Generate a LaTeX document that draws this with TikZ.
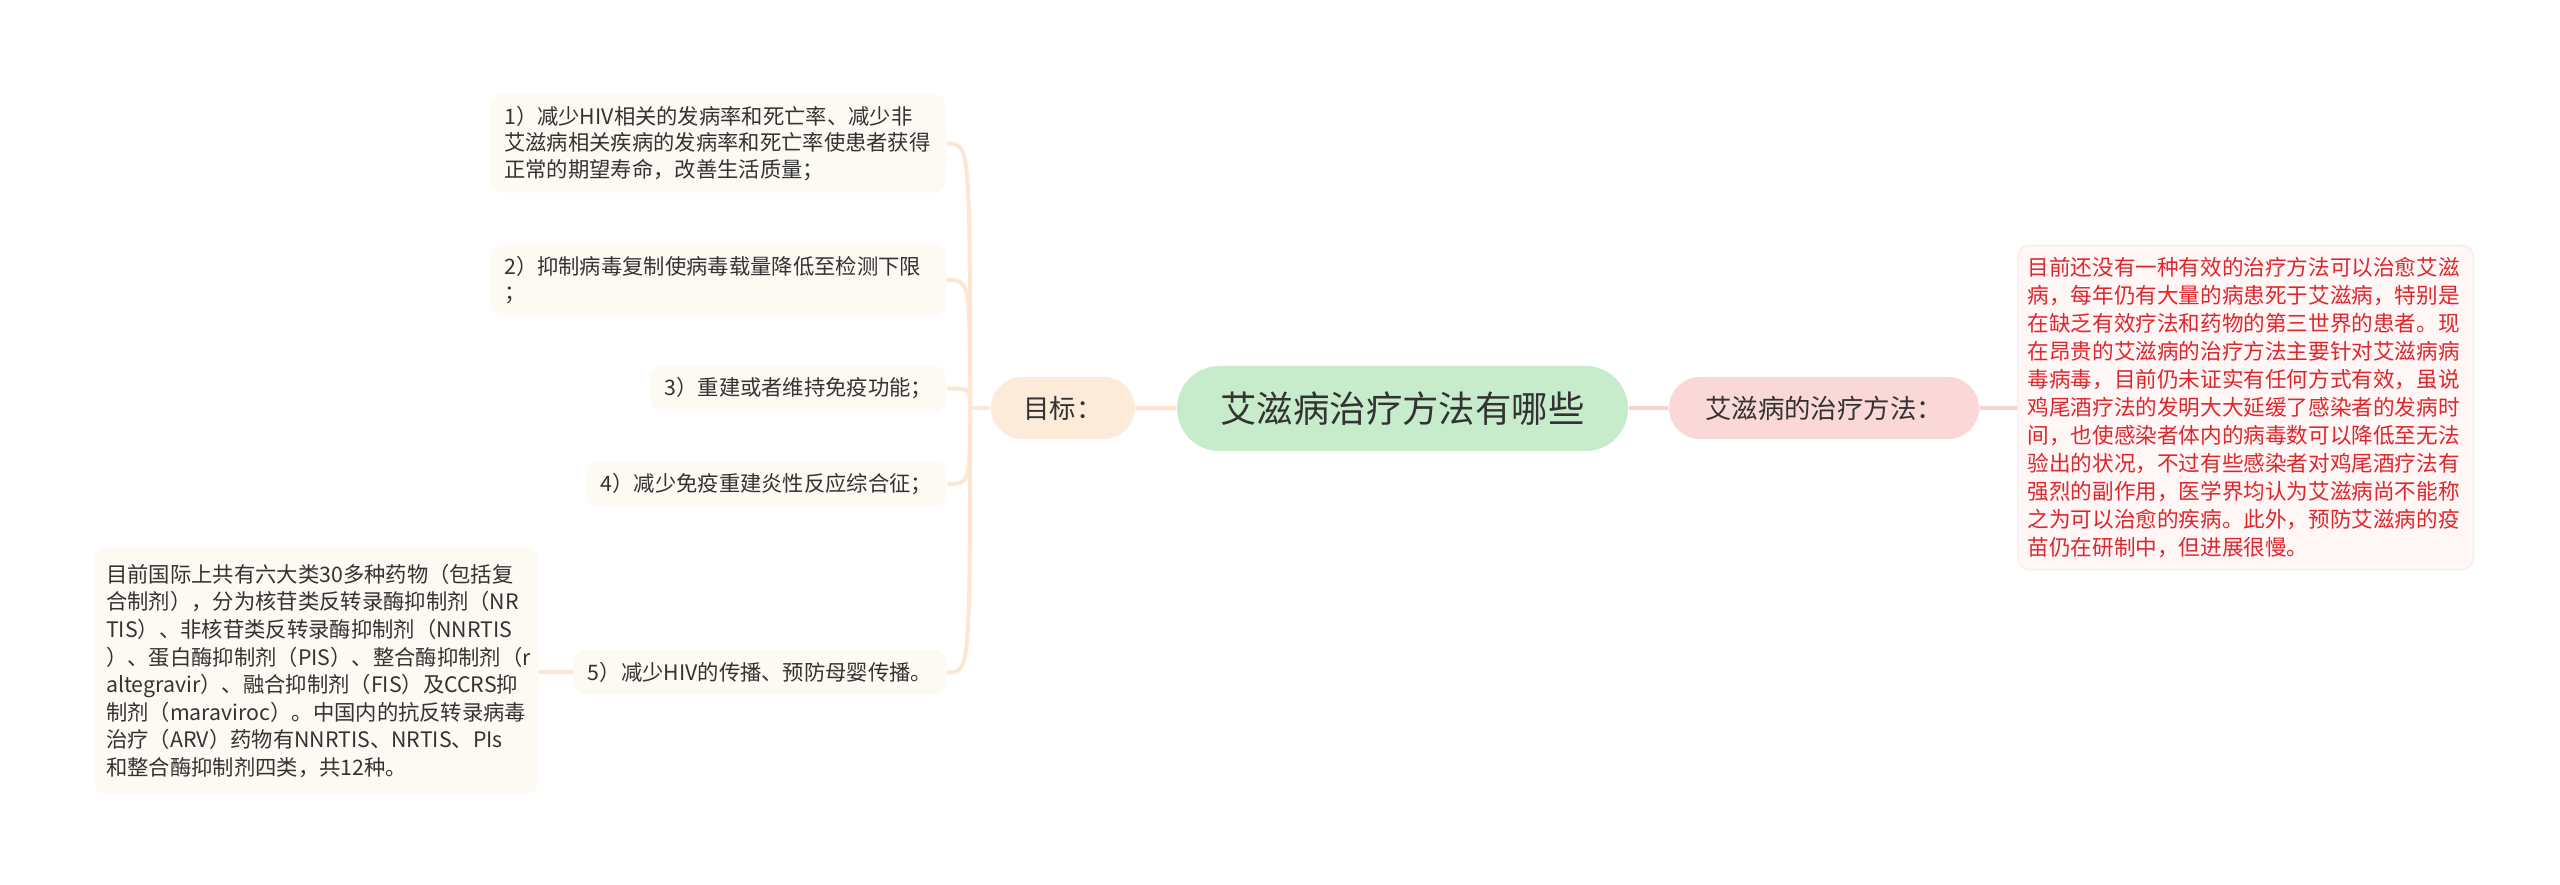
\documentclass[tikz,border=0pt]{standalone}
\usepackage{fontspec}
\setmainfont{Noto Sans CJK SC}
\usetikzlibrary{positioning}

\definecolor{rootfill}{HTML}{C7ECCB}
\definecolor{goalfill}{HTML}{FDEBD9}
\definecolor{wayfill}{HTML}{FAD8D8}
\definecolor{leaffill}{HTML}{FDF9F3}
\definecolor{redleaf}{HTML}{FFF6F6}
\definecolor{redtext}{HTML}{E0262D}
\definecolor{goalline}{HTML}{FBE7D3}
\definecolor{wayline}{HTML}{F6D4D4}
\definecolor{ink}{HTML}{333333}

\begin{document}
\begin{tikzpicture}[x=0.25pt, y=-0.25pt,
    rootbox/.style={rounded corners=10.6pt, fill=rootfill, text=ink, minimum width=112.75pt, minimum height=21.25pt, font=\fontsize{9.1}{11}\selectfont},
    midbox/.style={rounded corners=7.75pt, minimum height=15.5pt, text=ink, font=\fontsize{6.6}{8}\selectfont},
    leafbox/.style={rounded corners=3pt, fill=leaffill, text=ink, inner xsep=3.5pt, inner ysep=3pt, font=\fontsize{5.33}{6.6}\selectfont},
    lk/.style={line width=1pt, color=goalline}]
    \useasboundingbox (0,0) rectangle (2560,885);

    % 中心主题
    \node[rootbox] (root) at (1402.5, 408.5) {艾滋病治疗方法有哪些};

    % 左侧分支：目标
    \node[midbox, fill=goalfill, minimum width=36pt] (goal) at (1063, 408) {目标：};
    \draw[line width=1pt, color=goalline!80!wayline] (root) -- (goal);

    % 目标下的五条
    \node[leafbox, anchor=east, text width=107pt, align=left] (g1) at (947, 143.5)
        {1）减少HIV相关的发病率和死亡率、减少非\\艾滋病相关疾病的发病率和死亡率使患者获得\\正常的期望寿命，改善生活质量；};
    \node[leafbox, anchor=east, text width=107pt, align=left] (g2) at (947, 280)
        {2）抑制病毒复制使病毒载量降低至检测下限\\；};
    \node[leafbox, anchor=east] (g3) at (947, 388.5) {3）重建或者维持免疫功能；};
    \node[leafbox, anchor=east] (g4) at (947, 484) {4）减少免疫重建炎性反应综合征；};
    \node[leafbox, anchor=east] (g5) at (947, 672.5) {5）减少HIV的传播、预防母婴传播。};

    \coordinate (bus) at (970, 408);
    \draw[lk] (goal.west) -- (bus);
    \foreach \g in {g1,g2,g3,g4,g5}
        \draw[lk] (bus) .. controls (bus |- \g.east) and (bus |- \g.east) .. (\g.east);

    % 第5条的补充说明
    \node[leafbox, anchor=east, text width=105pt, align=left, inner xsep=3pt, inner ysep=4pt,
          font=\fontsize{5.33}{6.9}\selectfont] (drugs) at (539, 671)
        {目前国际上共有六大类30多种药物（包括复\\合制剂），分为核苷类反转录酶抑制剂（NR\\TIS）、非核苷类反转录酶抑制剂（NNRTIS\\）、蛋白酶抑制剂（PIS）、整合酶抑制剂（r\\altegravir）、融合抑制剂（FIS）及CCRS抑\\制剂（maraviroc）。中国内的抗反转录病毒\\治疗（ARV）药物有NNRTIS、NRTIS、PIs\\和整合酶抑制剂四类，共12种。};
    \draw[lk] (g5.west) -- (drugs.east |- g5.west);

    % 右侧分支：治疗方法
    \node[midbox, fill=wayfill, minimum width=77.5pt] (way) at (1824, 408) {艾滋病的治疗方法：};
    \draw[line width=1pt, color=wayline] (root) -- (way);

    \node[leafbox, fill=redleaf, draw=wayline!50, line width=0.3pt, text=redtext, anchor=west,
          text width=109pt, align=left, inner xsep=2.5pt, inner ysep=3pt,
          font=\fontsize{5.4}{7}\selectfont] (waytxt) at (2017, 407.5)
        {目前还没有一种有效的治疗方法可以治愈艾滋\\病，每年仍有大量的病患死于艾滋病，特别是\\在缺乏有效疗法和药物的第三世界的患者。现\\在昂贵的艾滋病的治疗方法主要针对艾滋病病\\毒病毒，目前仍未证实有任何方式有效，虽说\\鸡尾酒疗法的发明大大延缓了感染者的发病时\\间，也使感染者体内的病毒数可以降低至无法\\验出的状况，不过有些感染者对鸡尾酒疗法有\\强烈的副作用，医学界均认为艾滋病尚不能称\\之为可以治愈的疾病。此外，预防艾滋病的疫\\苗仍在研制中，但进展很慢。};
    \draw[line width=1pt, color=wayline] (way) -- (waytxt);
\end{tikzpicture}
\end{document}
